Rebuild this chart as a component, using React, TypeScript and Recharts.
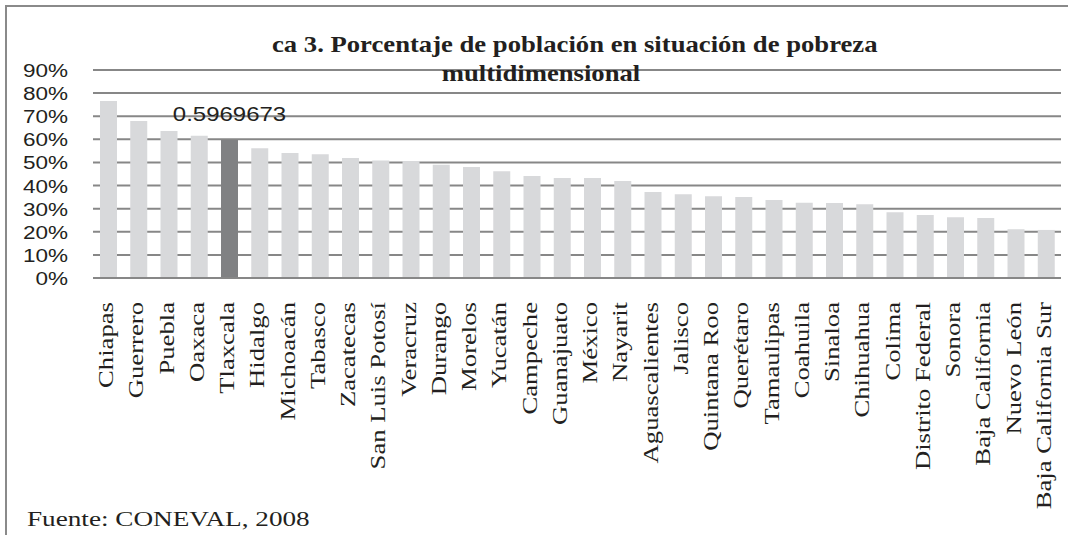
import React from 'react';
import { BarChart, Bar, XAxis, YAxis, CartesianGrid, Cell, LabelList } from 'recharts';

const ESTADOS = [
  'Chiapas', 'Guerrero', 'Puebla', 'Oaxaca', 'Tlaxcala', 'Hidalgo', 'Michoacán', 'Tabasco',
  'Zacatecas', 'San Luis Potosí', 'Veracruz', 'Durango', 'Morelos', 'Yucatán', 'Campeche',
  'Guanajuato', 'México', 'Nayarit', 'Aguascalientes', 'Jalisco', 'Quintana Roo', 'Querétaro',
  'Tamaulipas', 'Coahuila', 'Sinaloa', 'Chihuahua', 'Colima', 'Distrito Federal', 'Sonora',
  'Baja California', 'Nuevo León', 'Baja California Sur',
];

const POBREZA = [
  0.766, 0.679, 0.636, 0.616, 0.5969673, 0.561, 0.541, 0.535,
  0.519, 0.508, 0.506, 0.49, 0.48, 0.462, 0.441,
  0.433, 0.433, 0.42, 0.372, 0.362, 0.354, 0.35,
  0.3375, 0.326, 0.325, 0.319, 0.284, 0.273, 0.263,
  0.26, 0.211, 0.208,
];

const Y_TICKS = [0, 0.1, 0.2, 0.3, 0.4, 0.5, 0.6, 0.7, 0.8, 0.9];
const DESTACADO = 'Tlaxcala';

const TITULO_1 = 'ca 3. Porcentaje de población en situación de pobreza';
const TITULO_2 = 'multidimensional';
const FUENTE = 'Fuente:  CONEVAL, 2008';

const data = ESTADOS.map((name, i) => ({ name, value: POBREZA[i] }));

const INK = '#231f20';
const GRID = '#878787';
const SERIF = '"Liberation Serif", "Times New Roman", serif';
const SANS = '"Liberation Sans", Arial, sans-serif';

const YTick = (props: any) => {
  const { x, y, payload } = props;
  return (
    <text
      transform={`translate(${x},${y + 7}) scale(1.25,1)`}
      textAnchor="end"
      fontFamily={SANS}
      fontSize={18}
      fill={INK}
    >
      {Math.round(payload.value * 100)}%
    </text>
  );
};

const XTick = (props: any) => {
  const { x, y, payload } = props;
  return (
    <text
      transform={`translate(${x + 5},${y}) rotate(-90) scale(1.27,1)`}
      textAnchor="end"
      fontFamily={SERIF}
      fontSize={21}
      fill={INK}
    >
      {payload.value}
    </text>
  );
};

const ValueLabel = (props: any) => {
  const { x, y, width, value, index } = props;
  if (ESTADOS[index] !== DESTACADO) return null;
  return (
    <text
      transform={`translate(${x + width / 2},${y - 19}) scale(1.2,1)`}
      textAnchor="middle"
      fontFamily={SANS}
      fontSize={20}
      fill={INK}
    >
      {String(value)}
    </text>
  );
};

export default function App() {
  return (
    <div style={{ position: 'absolute', left: 0, top: 0, width: 1068, height: 535, overflow: 'hidden', background: '#fff' }}>
      <div
        style={{
          position: 'absolute', left: 5, top: 5, width: 1200, height: 700,
          borderLeft: '2.5px solid #8a8a8a', borderTop: '2.5px solid #8a8a8a',
        }}
      />
      <div style={{ position: 'absolute', left: 0, top: 0 }}>
        <BarChart width={1068} height={535} data={data} margin={{ top: 70, right: 7, left: 0, bottom: 0 }}>
          <CartesianGrid vertical={false} stroke={GRID} strokeWidth={2} />
          <XAxis
            dataKey="name"
            type="category"
            interval={0}
            height={257}
            tickLine={false}
            tickSize={0}
            tickMargin={24}
            axisLine={{ stroke: GRID, strokeWidth: 2 }}
            tick={<XTick />}
          />
          <YAxis
            type="number"
            domain={[0, 0.9]}
            ticks={Y_TICKS}
            width={93}
            axisLine={false}
            tickLine={false}
            tickSize={0}
            tickMargin={25}
            tick={<YTick />}
          />
          <Bar dataKey="value" barSize={17} isAnimationActive={false}>
            {data.map((d) => (
              <Cell key={d.name} fill={d.name === DESTACADO ? '#808183' : '#d8d9db'} />
            ))}
            <LabelList dataKey="value" content={<ValueLabel />} />
          </Bar>
        </BarChart>
      </div>
      <svg width={1068} height={535} style={{ position: 'absolute', left: 0, top: 0, pointerEvents: 'none' }}>
        <text transform="translate(272,52) scale(1.16,1)" fontFamily={SERIF} fontWeight="bold" fontSize={23} fill={INK}>
          {TITULO_1}
        </text>
        <text transform="translate(541,81) scale(1.16,1)" textAnchor="middle" fontFamily={SERIF} fontWeight="bold" fontSize={23} fill={INK}>
          {TITULO_2}
        </text>
        <text transform="translate(27,526) scale(1.36,1)" fontFamily={SERIF} fontSize={20} fill={INK}>
          {FUENTE}
        </text>
      </svg>
    </div>
  );
}
